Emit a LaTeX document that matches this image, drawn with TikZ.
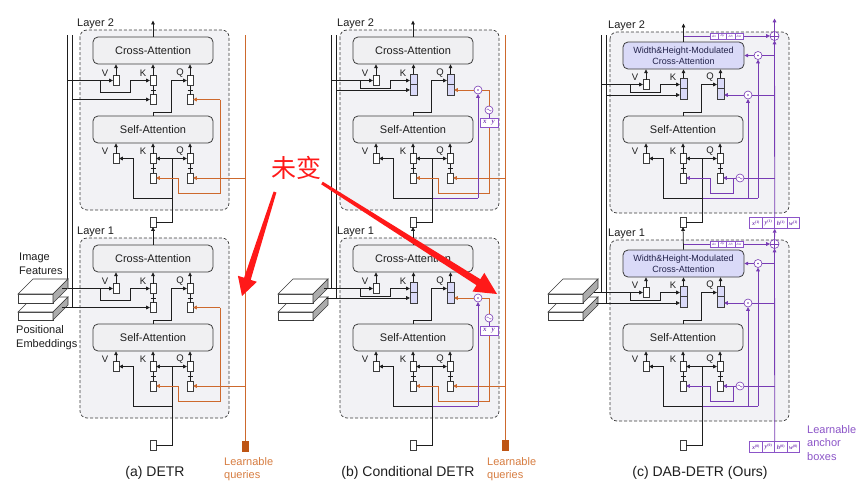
\documentclass[tikz,border=0pt]{standalone}
\usepackage{fontspec}
\setmainfont{Liberation Sans}
\newfontfamily\lserif{Liberation Serif}
\newfontfamily\cjk{Noto Sans CJK SC}
\usetikzlibrary{arrows.meta,calc}
\definecolor{bgc}{RGB}{242,242,245}
\definecolor{boxc}{RGB}{240,240,242}
\definecolor{edge}{RGB}{60,60,60}
\definecolor{lnc}{RGB}{30,30,30}
\definecolor{orc}{RGB}{205,105,45}
\definecolor{orl}{RGB}{215,125,65}
\definecolor{orf}{RGB}{190,85,20}
\definecolor{puc}{RGB}{120,60,180}
\definecolor{pul}{RGB}{140,85,200}
\definecolor{lav}{RGB}{218,218,248}
\definecolor{navy}{RGB}{35,35,75}
\definecolor{redc}{RGB}{255,25,25}
\tikzset{
 ln/.style={draw=lnc,line width=0.75pt},
 oln/.style={draw=orc,line width=0.85pt},
 pln/.style={draw=puc,line width=0.85pt},
 arr/.style={-{Triangle[length=3.8pt,width=3.6pt]}},
 sb/.style={draw=edge,fill=white,line width=0.7pt,minimum width=6pt,minimum height=10pt,inner sep=0pt,outer sep=0pt},
 tb/.style={draw=edge,fill=lav,line width=0.7pt,minimum width=7pt,minimum height=21pt,inner sep=0pt,outer sep=0pt},
 att/.style={draw=edge,fill=boxc,rounded corners=5pt,line width=0.8pt,minimum width=120pt,minimum height=27pt,inner sep=0pt,font=\fontsize{11}{13}\selectfont,text=lnc},
 lay/.style={draw=edge,dash pattern=on 3pt off 2pt,fill=bgc,rounded corners=7pt,line width=0.7pt},
 lbl/.style={font=\fontsize{9.5}{11}\selectfont,inner sep=0pt,text=lnc},
 txt/.style={font=\fontsize{11}{13.5}\selectfont,inner sep=0pt,align=left,text=lnc},
 captxt/.style={font=\fontsize{14}{16}\selectfont,inner sep=0pt,text=lnc},
 pcirc/.style={circle,draw=puc,fill=white,line width=0.6pt,minimum size=8pt,inner sep=0pt,outer sep=0pt},
 dcell/.style={draw=pul,fill=white,line width=0.4pt,minimum width=8.25pt,minimum height=5.5pt,inner sep=0pt,font=\fontsize{3.2}{3.2}\selectfont\itshape,text=puc},
 acell/.style={draw=pul,fill=white,line width=0.5pt,minimum width=12.5pt,minimum height=11pt,inner sep=0pt,font=\fontsize{6}{6}\selectfont,text=puc},
 xyb/.style={draw=pul,fill=white,line width=0.5pt,minimum width=18pt,minimum height=9pt,inner sep=0pt,font=\lserif\itshape\bfseries\fontsize{7}{7}\selectfont,text=puc},
 lqbox/.style={draw=orf,fill=orf,minimum width=6pt,minimum height=10pt,inner sep=0pt},
 slabf/.style={draw=edge,line width=0.6pt,fill=white},
 slabg/.style={draw=edge,line width=0.6pt,fill=gray!65},
}
\newcommand\anc[2]{{\lserif\bfseries\itshape #1}\raisebox{1.8pt}{\fontsize{3.8}{3.8}\selectfont\lserif\bfseries(#2)}}
\newcommand\sinsym[1]{\draw[puc,line width=0.35pt] ($(#1)+(-2.4,0)$) sin ++(1.2,-1.2) cos ++(1.2,1.2) sin ++(1.2,1.2) cos ++(1.2,-1.2);}
% #1 prefix, #2 dx, #3 dy, #4 type (0=DETR,1=Cond,2=DAB)
\newcommand\dlayer[4]{%
\begin{scope}[shift={(#2,#3)}]
\ifcase#4
 \path[lay] (80,30) rectangle (229,210);
 \def\co{0}\def\xa{67}\def\xb{72}\def\br{11.5}\def\py{99.5}
\or
 \path[lay] (80,30) rectangle (239,210);
 \def\co{0}\def\xa{71}\def\xb{76}\def\br{7.5}\def\py{90}
\or
 \path[lay] (80,32) rectangle (259,213);
 \def\co{4}\def\xa{71}\def\xb{76}\def\br{7.5}\def\py{95}
\fi
% self attention
\node[att] (#1sa) at (153,129.5) {Self-Attention};
\node[sb] (#1sv) at (116,158.5) {};
\node[sb] (#1sk) at (153,158.5) {};
\node[sb] (#1sq) at (190,158.5) {};
\node[sb] (#1skl) at (153,178) {};
\node[sb] (#1sql) at (190,178) {};
\draw[ln,arr] (#1sv.north) -- (#1sv.north |- #1sa.south);
\draw[ln,arr] (#1sk.north) -- (#1sk.north |- #1sa.south);
\draw[ln,arr] (#1sq.north) -- (#1sq.north |- #1sa.south);
\draw[ln] (#1skl.north) -- (#1sk.south) ($(#1sk.south)!.5!(#1skl.north)$) +(-2.5,0) -- +(2.5,0);
\draw[ln] (#1sql.north) -- (#1sq.south) ($(#1sq.south)!.5!(#1sql.north)$) +(-2.5,0) -- +(2.5,0);
\node[lbl] (#1lsv) at (105,151) {V};
\node[lbl] (#1lsk) at (143,151) {K};
\node[lbl] (#1lsq) at (180,151) {Q};
\coordinate (#1j) at (172,198);
\coordinate (#1t) at (172,158.5);
\draw[ln] (#1j) -- (#1t);
\draw[ln,arr] (#1t) -- (#1sk.east);
\draw[ln,arr] (#1t) -- (#1sq.west);
\draw[ln,arr] (#1j) -| (133,158.5) -- (#1sv.east);
% cross attention
\ifnum#4=2
 \node[att,fill=lav,font=\fontsize{9}{11}\selectfont,align=center,text=navy,minimum width=121pt] (#1ca) at (153.5,55.5) {Width\&Height-Modulated\\Cross-Attention};
\else
 \node[att] (#1ca) at (153,50.5) {Cross-Attention};
\fi
\node[sb] (#1cv) at (116,80.5+\co) {};
\draw[ln,arr] (#1cv.north) -- (#1cv.north |- #1ca.south);
\node[lbl] (#1lcv) at (105,73+\co) {V};
\node[lbl] (#1lck) at (143,73+\co) {K};
\node[lbl] (#1lcq) at (180,73+\co) {Q};
\ifnum#4=0
 \node[sb] (#1ck) at (153,80.5) {};
 \node[sb] (#1cq) at (190,80.5) {};
 \node[sb] (#1ckl) at (153,99.5) {};
 \node[sb] (#1cql) at (190,99.5) {};
 \draw[ln] (#1ckl.north) -- (#1ck.south) ($(#1ck.south)!.5!(#1ckl.north)$) +(-2.5,0) -- +(2.5,0);
 \draw[ln] (#1cql.north) -- (#1cq.south) ($(#1cq.south)!.5!(#1cql.north)$) +(-2.5,0) -- +(2.5,0);
 \draw[ln,arr] (\xb,\py) -- (#1ckl.west);
\else
 \node[tb] (#1ck) at (153.5,84.5+\co) {};
 \node[tb] (#1cq) at (190.5,84.5+\co) {};
 \draw[edge,line width=0.6pt] (#1ck.west) -- (#1ck.east) (#1cq.west) -- (#1cq.east);
 \draw[ln,arr] (\xb,\py) -- (150,\py);
\fi
\draw[ln,arr] (#1ck.north) -- (#1ck.north |- #1ca.south);
\draw[ln,arr] (#1cq.north) -- (#1cq.north |- #1ca.south);
\draw[ln,arr] (\xa,80.5+\co) -- (#1cv.west);
\draw[ln,arr] (100,80.5+\co) -- ++(0,\br) -| (130,80.5+\co) -- (#1ck.west |- #1cv.west);
\draw[ln,arr] (#1sa.north) -- (153,112) -| (171,80.5+\co) -- (#1cq.west |- #1cv.west);
% coloured parts
\ifcase#4
 \draw[oln,arr] (220,99.5) -- (#1cql.east);
 \draw[oln] (220,99.5) -- (220,193) -- (178,193) -- (178,178);
 \draw[oln,arr] (178,178) -- (#1skl.east);
 \draw[oln,arr] (245,178) -- (#1sql.east);
\or
 \draw[oln] (229,90) -- (229,193) -- (178,193) -- (178,178);
 \draw[oln,arr] (178,178) -- (#1skl.east);
 \draw[oln,arr] (245,178) -- (#1sql.east);
 \node[pcirc] (#1dot) at (218,90) {};
 \fill[puc] (#1dot) circle (0.9);
 \draw[oln] (229,90) -- (#1dot.east);
 \draw[oln,arr] (#1dot.west) -- (194,90);
 \draw[pln] (#1j) -- (218,198);
 \draw[pln,arr] (218,198) -- (#1dot.south);
 \node[pcirc] (#1sin) at (229,110) {};
 \sinsym{#1sin}
 \node[xyb] (#1xy) at (229,122.5) {x\hspace{5pt}y};
 \draw[pln] (#1xy.north) -- (#1sin.south);
\or
 \node[pcirc,minimum size=9pt] (#1plus) at (244.5,36) {};
 \draw[pln,arr] (154,36) -- (#1plus.west);
 \draw[puc,line width=0.5pt] (#1plus.north) -- (#1plus.south) (#1plus.west) -- (#1plus.east);
 \node[dcell] (#1d1) at (184.1,36) {Δx};
 \node[dcell] (#1d2) at (192.4,36) {Δy};
 \node[dcell] (#1d3) at (200.6,36) {Δh};
 \node[dcell] (#1d4) at (208.9,36) {Δw};
 \node[pcirc] (#1da) at (228,55.5) {};
 \fill[puc] (#1da) circle (0.9);
 \draw[pln] (244.5,55.5) -- (#1da.east);
 \draw[pln,arr] (#1da.west) -- (#1ca.east);
 \node[pcirc] (#1db) at (218,95) {};
 \fill[puc] (#1db) circle (0.9);
 \draw[pln] (244.5,95) -- (#1db.east);
 \draw[pln,arr] (#1db.west) -- (194,95);
 \draw[pln] (#1j) -- (228,198);
 \draw[pln,arr] (228,198) -- (#1da.south);
 \draw[pln,arr] (218,198) -- (#1db.south);
 \node[pcirc] (#1sin) at (210,178) {};
 \sinsym{#1sin}
 \draw[pln] (244.5,178) -- (#1sin.east);
 \draw[pln,arr] (#1sin.west) -- (#1sql.east);
 \draw[pln] (203,178) -- (203,193) -- (180,193) -- (180,178);
 \draw[pln,arr] (180,178) -- (#1skl.east);
\fi
\end{scope}}
% slabs: #1 dx, #2 prefix
\newcommand\slabs[2]{%
\begin{scope}[shift={(#1,0)}]
 \path[slabf] (18,312) rectangle (53,320);
 \path[slabf] (18,312) -- (33,297) -- (68,297) -- (53,312) -- cycle;
 \path[slabg] (53,312) -- (68,297) -- (68,305) -- (53,320) -- cycle;
 \path[slabf] (18,294) rectangle (53,303);
 \path[slabf] (18,294) -- (33,279) -- (68,279) -- (53,294) -- cycle;
 \path[slabg] (53,294) -- (68,279) -- (68,288) -- (53,303) -- cycle;
 \coordinate (#2f) at (64,288.5);
\end{scope}}
\newcommand\anchorbox[3]{%
 \node[acell] (#1a) at (755.75,#2) {\anc{x}{#3}};
 \node[acell] (#1b) at (768.25,#2) {\anc{y}{#3}};
 \node[acell] (#1c) at (780.75,#2) {\anc{h}{#3}};
 \node[acell] (#1d) at (793.25,#2) {\anc{w}{#3}};
}
\begin{document}
\begin{tikzpicture}[x=1pt,y=-1pt]
\useasboundingbox (0,0) rectangle (867,498);
\fill[white] (0,0) rectangle (867,498);
% ================= panel a
\draw[ln] (67,35) -- (67,288.5);
\draw[ln] (72,35) -- (72,307.5);
\dlayer{a2}{0}{0}{0}
\dlayer{a1}{0}{208}{0}
\node[txt,anchor=base west] (aL2) at (77,26) {Layer 2};
\node[txt,anchor=base west] (aL1) at (77,234) {Layer 1};
\node[sb] (amid) at (153,222) {};
\node[sb] (abot) at (153,445) {};
\draw[ln,arr] (a1ca.north) -- (amid.south);
\draw[ln] (amid.east) -| (a2j);
\draw[ln] (abot.east) -| (a1j);
\draw[ln,arr] (a2ca.north) -- ++(0,-16);
\node[lqbox] (alq) at (245,446) {};
\draw[oln] (245,35) -- (alq.north);
\slabs{0}{as}
\draw[ln] (62,288.5) -- (67,288.5);
\draw[ln] (62,307.5) -- (72,307.5);
\node[txt,anchor=north west] (aif) at (19,253) {Image\\Features};
\node[txt,anchor=north west] (ape) at (16,325.5) {Positional\\Embeddings};
\node[txt,anchor=north west,text=orl] (alql) at (224,457) {Learnable\\queries};
\node[captxt] (acap) at (155,473) {(a) DETR};
% ================= panel b
\draw[ln] (331,35) -- (331,288.5);
\draw[ln] (336,35) -- (336,298);
\dlayer{b2}{260}{0}{1}
\dlayer{b1}{260}{208}{1}
\node[txt,anchor=base west] (bL2) at (337,26) {Layer 2};
\node[txt,anchor=base west] (bL1) at (337,234) {Layer 1};
\node[sb] (bmid) at (413,222) {};
\node[sb] (bbot) at (413,445) {};
\draw[ln,arr] (b1ca.north) -- (bmid.south);
\draw[ln] (bmid.east) -| (b2j);
\draw[ln] (bbot.east) -| (b1j);
\draw[ln,arr] (b2ca.north) -- ++(0,-16);
\node[lqbox] (blq) at (505,445) {};
\draw[oln] (505,35) -- (blq.north);
\slabs{260}{bs}
\draw[ln] (324,288.5) -- (331,288.5);
\draw[ln] (326,298) -- (336,298);
\node[txt,anchor=north west,text=orl] (blql) at (487,457) {Learnable\\queries};
\node[captxt] (bcap) at (408,473) {(b) Conditional DETR};
% ================= panel c
\draw[ln] (601,35) -- (601,292.5);
\draw[ln] (606,35) -- (606,303);
\dlayer{c2}{530}{0}{2}
\dlayer{c1}{530}{208}{2}
\node[txt,anchor=base west] (cL2) at (608,28) {Layer 2};
\node[txt,anchor=base west] (cL1) at (608,236) {Layer 1};
\node[sb] (cmid) at (683,222) {};
\node[sb] (cbot) at (683,445) {};
\draw[ln,arr] (c1ca.north) -- (cmid.south);
\draw[ln] (cmid.east) -| (c2j);
\draw[ln] (cbot.east) -| (c1j);
\draw[ln,arr] (c2ca.north) -- ++(0,-18);
\slabs{530}{cs}
\draw[ln] (594,292.5) -- (601,292.5);
\draw[ln] (596,303) -- (606,303);
\anchorbox{cx1}{223}{1}
\anchorbox{cx0}{447}{0}
\draw[pln,arr] (cx1b.north east) -- (c2plus.south);
\draw[pln,arr] (c2plus.north) -- ++(0,-13);
\draw[pln,arr] (c1plus.north) -- (cx1b.south east);
\draw[pln,arr] (cx0b.north east) -- (c1plus.south);
\node[txt,anchor=north west,text=pul] (clab) at (807,425) {Learnable\\anchor\\boxes};
\node[captxt] (ccap) at (700,473) {(c) DAB-DETR (Ours)};
% ================= red annotation
\node[text=redc,font=\cjk\fontsize{25}{25}\selectfont,inner sep=0pt] (unch) at (296,168) {未变};
\fill[redc] (276.4,192.5) -- (250.7,279.9) -- (256.9,281.8) -- (242,296) -- (237.9,275.8) -- (244.1,277.7) -- (273.6,191.5) -- cycle;
\fill[redc] (321.2,184.3) -- (476.5,285.2) -- (472.5,291.5) -- (497,294) -- (484.3,272.9) -- (480.3,279.2) -- (322.8,181.7) -- cycle;
\end{tikzpicture}
\end{document}
